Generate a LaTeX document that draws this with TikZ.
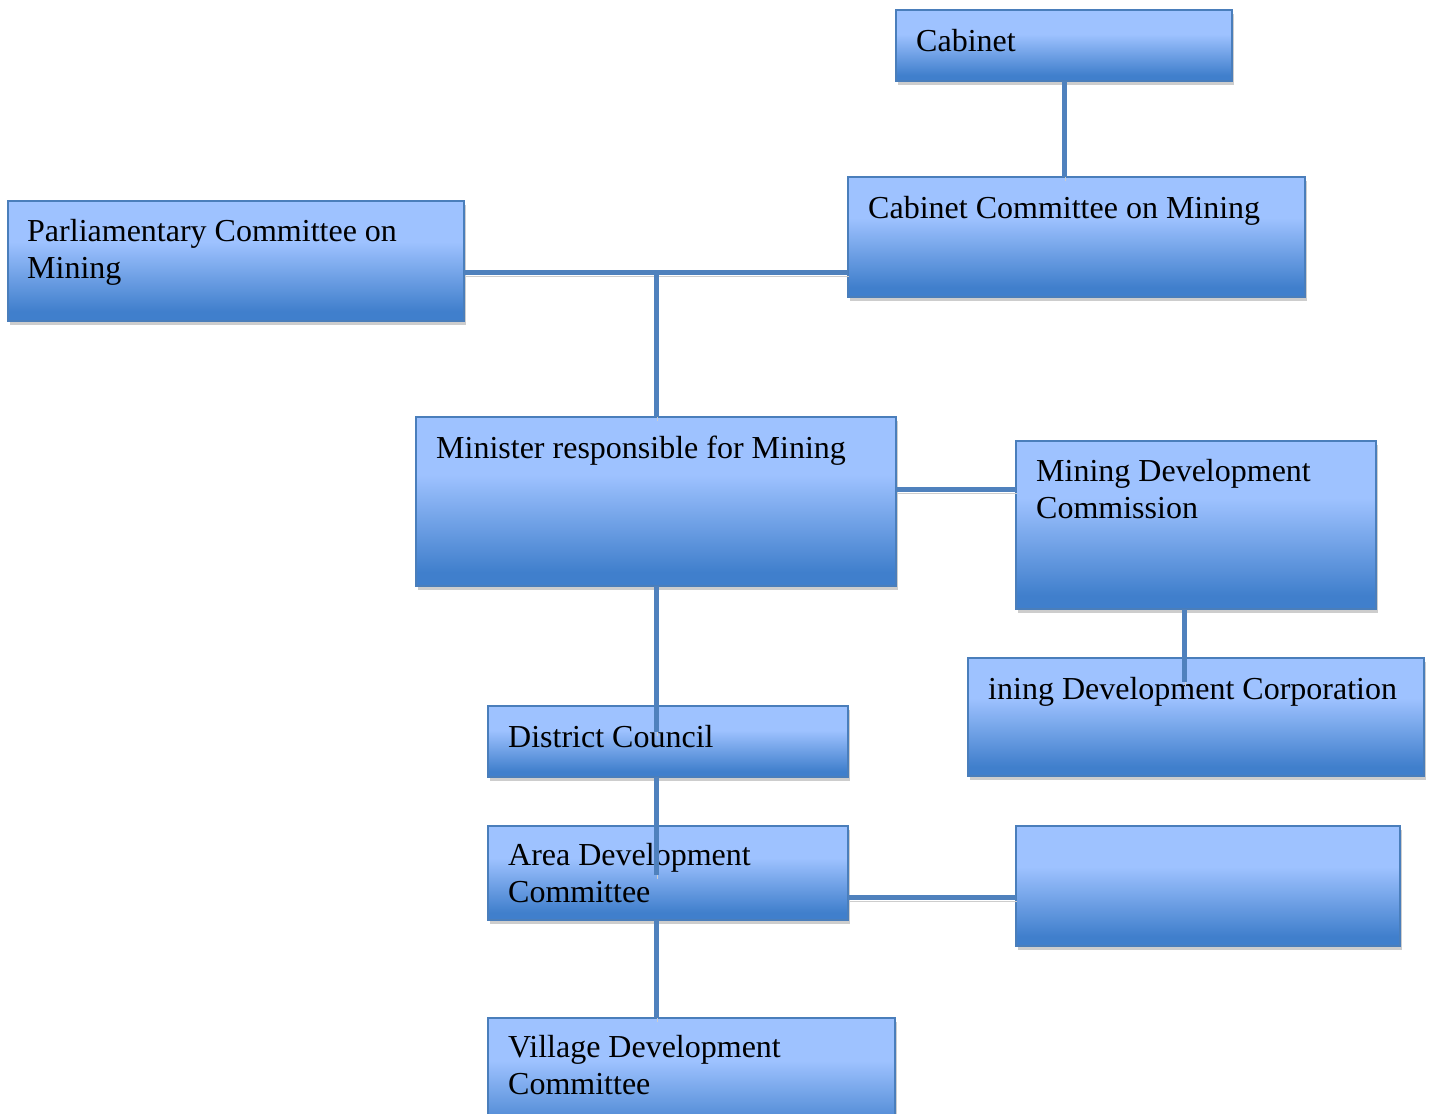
\documentclass[tikz,border=0pt]{standalone}
\usepackage{fontspec}
\setmainfont{Liberation Serif}
\usetikzlibrary{shadows,calc}
\definecolor{blight}{RGB}{158,194,255}
\definecolor{bdark}{RGB}{64,127,204}
\definecolor{bborder}{RGB}{74,126,187}
\definecolor{lineblue}{RGB}{79,129,189}
\definecolor{shadowgray}{RGB}{205,205,205}
\pgfdeclareverticalshading{boxshade}{100bp}{color(0bp)=(bdark); color(29bp)=(bdark); color(58bp)=(blight); color(100bp)=(blight)}
\newcommand\lbfont{\fontsize{32}{36.8}\selectfont}
\begin{document}
\begin{tikzpicture}[x=1pt,y=-1pt,
  box/.style={draw=bborder, line width=1.3pt, shade, shading=boxshade, inner sep=0pt, outer sep=0pt, anchor=north west,
    general shadow={fill=shadowgray, shadow xshift=1.5pt, shadow yshift=-4pt}},
  lbl/.style={anchor=north west, inner sep=0pt, align=left, font=\lbfont},
  conn/.style={line width=5pt, draw=lineblue, preaction={draw=shadowgray, transform canvas={shift={(1pt,-4pt)}}}}]
\path[use as bounding box, clip] (0,0) rectangle (1434,1113);
\fill[white] (0,0) rectangle (1434,1113);
% boxes
\node[box, minimum width=336pt, minimum height=71pt] (cab) at (896,10) {};
\node[box, minimum width=457pt, minimum height=120pt] (ccm) at (848,177) {};
\node[box, minimum width=456pt, minimum height=120pt] (parl) at (8,201) {};
\node[box, minimum width=480pt, minimum height=169pt] (min) at (416,417) {};
\node[box, minimum width=360pt, minimum height=168pt] (mdc) at (1016,441) {};
\node[box, minimum width=456pt, minimum height=118pt] (corp) at (968,658) {};
\node[box, minimum width=360pt, minimum height=71pt] (dc) at (488,706) {};
\node[box, minimum width=360pt, minimum height=94pt] (adc) at (488,826) {};
\node[box, minimum width=384pt, minimum height=120pt] (emp) at (1016,826) {};
\node[box, minimum width=407pt, minimum height=125pt] (vdc) at (488,1018) {};
% labels
\node[lbl] (cabT) at ([shift={(20pt,-16pt)}]cab.north west) {\strut Cabinet};
\node[lbl] (ccmT) at ([shift={(20pt,-16pt)}]ccm.north west) {\strut Cabinet Committee on Mining};
\node[lbl] (parlT) at ([shift={(19pt,-15pt)}]parl.north west) {\strut Parliamentary Committee on\\Mining};
\node[lbl] (minT) at ([shift={(20pt,-16pt)}]min.north west) {\strut Minister responsible for Mining};
\node[lbl] (mdcT) at ([shift={(20pt,-15pt)}]mdc.north west) {\strut Mining Development\\Commission};
\node[lbl] (corpT) at ([shift={(20pt,-16pt)}]corp.north west) {\strut ining Development Corporation};
\node[lbl] (dcT) at ([shift={(20pt,-16pt)}]dc.north west) {\strut District Council};
\node[lbl] (adcT) at ([shift={(20pt,-14pt)}]adc.north west) {\strut Area Development\\Committee};
\node[lbl] (vdcT) at ([shift={(20pt,-14pt)}]vdc.north west) {\strut Village Development\\Committee};
% connectors
\draw[conn] (cab.south) -- (cab.south |- ccm.north);
\coordinate (pj) at ([yshift=-71pt]parl.north east);
\draw[conn] (pj) -- (pj -| ccm.west);
\coordinate (mj) at (pj -| min.north);
\draw[conn] (mj) -- (min.north);
\coordinate (mr) at ([yshift=-72pt]min.north east);
\draw[conn] (mr) -- (mr -| mdc.west);
\coordinate (corpIn) at (1184,682);
\draw[conn] (corpIn |- mdc.south) -- (corpIn);
\coordinate (dcIn) at (656,732);
\draw[conn] (min.south) -- (dcIn);
\coordinate (adcIn) at (656,875);
\draw[conn] (dcIn |- dc.south) -- (adcIn);
\draw[conn] (adcIn |- adc.south) -- (adcIn |- vdc.north);
\coordinate (ar) at ([yshift=-71pt]adc.north east);
\draw[conn] (ar) -- (ar -| emp.west);
\end{tikzpicture}
\end{document}
